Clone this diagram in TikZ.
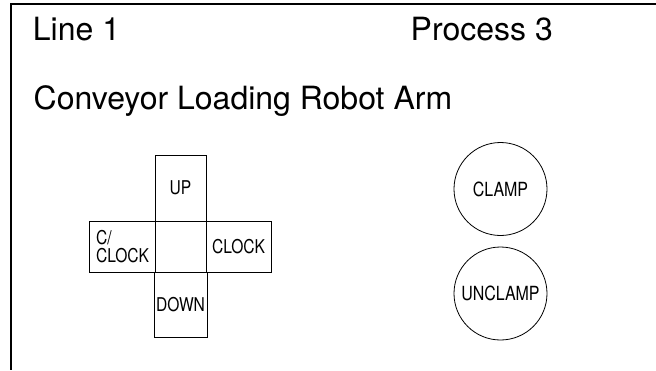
\documentclass[tikz,border=0pt]{standalone}
\usepackage{fontspec}
\setmainfont{TeX Gyre Heros}
\newfontfamily\keyfont[FakeStretch=0.82]{TeX Gyre Heros}
\usetikzlibrary{positioning}

\begin{document}
\begin{tikzpicture}[
  x=1pt, y=-1pt,
  node distance=0pt,
  head/.style={anchor=base west, inner sep=0pt, font=\fontsize{32}{34}\selectfont},
  key/.style={
    rectangle, draw, line width=0.8pt, outer sep=0pt, inner sep=2pt,
    minimum width=51pt, minimum height=51pt, align=center,
    font=\keyfont\fontsize{19}{17.7}\selectfont
  },
  btn/.style={
    circle, draw, line width=0.8pt, minimum size=93pt, inner sep=0pt,
    align=center, font=\keyfont\fontsize{19.5}{19.5}\selectfont
  },
]
  \useasboundingbox (0,0) rectangle (656,370);

  % Frame
  \draw[line width=1.4pt] (656,4) -- (11,4) -- (11,370);

  % Headings
  \node[head] (line) at (32.7,40) {Line 1};
  \node[head] (proc) at (410.5,40) {Process 3};
  \node[head] (name) at (33.5,109) {Conveyor Loading Robot Arm};

  % Jog cross
  \node[key] (mid) at (180.5,246.5) {};
  \node[key, minimum height=66pt, above=of mid] (up) {UP};
  \node[key, minimum height=65pt, below=of mid] (down) {DOWN};
  \node[key, minimum width=66pt, left=of mid, align=left, inner xsep=7pt,
        text width=52pt] (cclock) {C/\\CLOCK};
  \node[key, minimum width=65pt, right=of mid] (clock) {CLOCK};

  % Clamp buttons
  \node[btn] (clamp) at (500.5,189) {CLAMP};
  \node[btn] (unclamp) at (500.5,293.5) {UNCLAMP};
\end{tikzpicture}
\end{document}
